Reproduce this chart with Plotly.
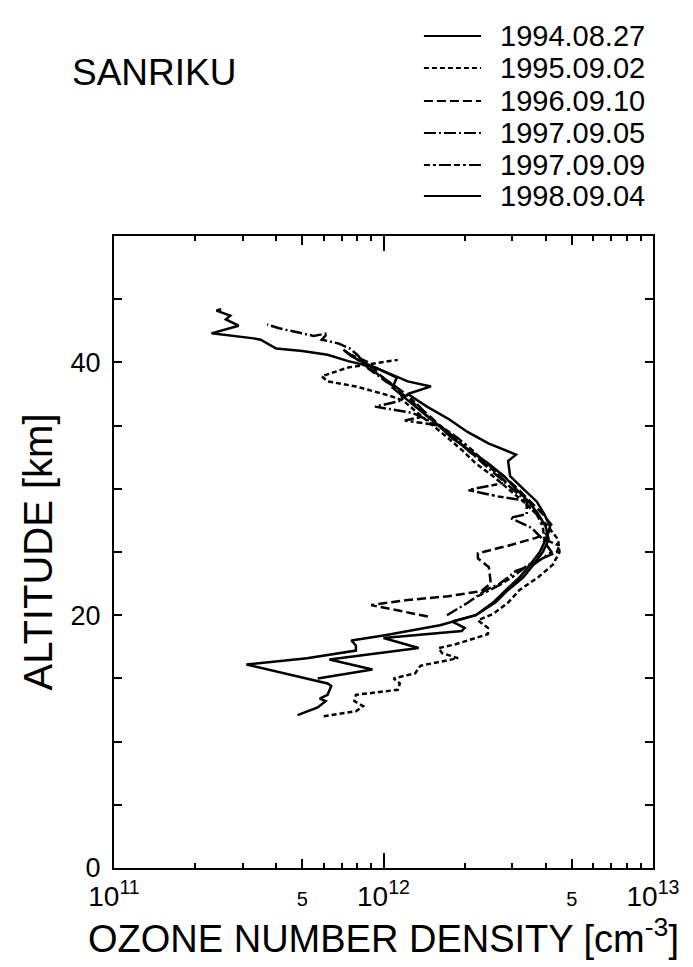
import plotly.graph_objects as go

# ---------------- data (density in units of 1e12 cm^-3, altitude in km) ----------------
labels = ["1994.08.27", "1995.09.02", "1996.09.10", "1997.09.05", "1997.09.09", "1998.09.04"]

alt_1994 = [12.1, 12.7, 13.2, 13.4, 13.7, 14.4, 14.6, 15.4, 16.1, 16.6, 17.2, 17.6, 18.0, 18.4, 19.2,
            20.0, 21.0, 22.0, 23.0, 24.0, 25.0, 26.0, 27.0, 28.0, 29.0, 30.0, 31.0, 32.0, 33.0,
            34.0, 35.0, 36.0, 37.0, 38.0, 38.8, 39.6, 40.1, 40.6, 40.9, 41.1, 41.8, 41.9, 42.3,
            42.9, 43.4, 43.7, 44.1, 44.2]
n_1994 = [0.48, 0.57, 0.61, 0.58, 0.62, 0.64, 0.62, 0.43, 0.31, 0.52, 0.79, 0.79, 0.76, 1.00, 1.62,
          2.20, 2.60, 2.90, 3.30, 3.60, 3.90, 4.10, 4.00, 3.75, 3.45, 3.10, 2.80, 2.45, 2.10,
          1.80, 1.60, 1.40, 1.23, 1.08, 1.12, 0.93, 0.74, 0.62, 0.50, 0.40, 0.35, 0.33, 0.23,
          0.29, 0.26, 0.27, 0.24, 0.25]

alt_1995 = [12.0, 12.4, 12.8, 13.2, 13.7, 14.1, 14.6, 15.0, 15.4, 16.0, 16.6, 17.0, 17.4, 17.7,
            18.5, 19.0, 19.6, 20.1, 21.0, 22.0, 23.0, 24.0, 25.0, 26.0, 27.0, 28.0, 29.0, 30.0,
            31.0, 32.0, 33.0, 34.0, 35.0, 36.0, 37.0, 37.4, 38.1, 38.5, 38.9, 39.6, 40.2]
n_1995 = [0.60, 0.79, 0.84, 0.78, 0.79, 1.13, 1.15, 1.09, 1.31, 1.37, 1.89, 1.65, 1.60, 1.85,
          2.44, 2.44, 2.24, 2.55, 2.90, 3.20, 3.75, 4.25, 4.50, 4.44, 4.08, 3.70, 3.30, 2.90,
          2.55, 2.20, 1.97, 1.74, 1.52, 1.34, 1.18, 1.04, 0.79, 0.62, 0.59, 0.74, 1.13]

alt_1996 = [19.9, 20.3, 20.8, 21.2, 21.5, 21.9, 22.5, 23.2, 23.8, 24.5, 24.9, 25.5, 26.1, 26.5,
            27.0, 28.0, 29.0, 30.0, 31.0, 32.0, 33.0, 34.0, 35.0, 36.0, 37.0, 38.0, 39.0, 40.0, 40.6]
n_1996 = [1.46, 1.18, 0.90, 1.23, 1.74, 2.30, 2.50, 2.48, 2.46, 2.24, 2.24, 2.90, 3.65, 4.08,
          4.25, 3.90, 3.50, 3.15, 2.80, 2.40, 2.06, 1.85, 1.62, 1.44, 1.25, 1.11, 0.97, 0.88, 0.76]

alt_1997a = [20.0, 21.0, 22.0, 22.5, 23.0, 23.5, 24.0, 25.0, 26.0, 26.9, 27.7, 28.0, 29.0, 30.0,
             31.0, 32.0, 33.0, 34.0, 35.0, 36.0, 36.5, 37.0, 37.8, 38.5, 39.5, 40.6, 41.1, 41.5,
             41.8, 42.3, 42.1, 42.7, 43.0]
n_1997a = [1.72, 2.06, 2.40, 2.70, 2.90, 3.10, 3.60, 4.20, 3.90, 3.55, 2.95, 3.40, 3.40, 3.00,
           2.66, 2.35, 2.06, 1.83, 1.62, 1.28, 0.93, 1.18, 1.15, 1.02, 0.88, 0.80, 0.75, 0.68,
           0.59, 0.62, 0.55, 0.41, 0.37]

alt_1997b = [21.5, 22.4, 23.0, 24.0, 25.0, 25.5, 26.0, 27.0, 28.0, 29.1, 29.4, 29.9, 30.5, 31.0,
             32.0, 33.0, 34.0, 35.0, 35.4, 35.8, 36.5, 37.5, 38.5, 39.5, 40.5, 41.0]
n_1997b = [2.24, 2.70, 3.00, 3.45, 4.40, 4.50, 3.95, 3.90, 3.70, 3.27, 2.66, 2.06, 2.85, 2.70,
           2.40, 2.15, 1.89, 1.62, 1.20, 1.46, 1.36, 1.21, 1.04, 0.89, 0.76, 0.71]

alt_1998 = [15.0, 15.7, 16.5, 17.4, 18.2, 18.75, 19.0, 19.5, 20.0, 21.0, 22.0, 23.0, 24.0, 25.0,
            26.0, 27.0, 28.0, 29.0, 30.0, 31.0, 32.2, 32.7, 33.6, 34.5, 35.5, 36.5, 37.5, 38.1,
            38.5, 39.0, 39.5, 40.0, 40.5, 41.0]
n_1998 = [0.57, 0.91, 0.63, 1.35, 1.00, 1.95, 2.00, 1.80, 2.20, 2.55, 2.85, 3.20, 3.50, 3.80,
          4.00, 4.15, 3.95, 3.70, 3.30, 2.95, 2.90, 3.10, 2.45, 2.05, 1.75, 1.45, 1.23, 1.50,
          1.23, 1.08, 0.95, 0.84, 0.76, 0.71]

series_alt = [alt_1994, alt_1995, alt_1996, alt_1997a, alt_1997b, alt_1998]
series_n = [n_1994, n_1995, n_1996, n_1997a, n_1997b, n_1998]

x_tickvals = [1e11, 5e11, 1e12, 5e12, 1e13]
x_ticktext = ["10<sup>11</sup>", "<span style='font-size:20px'>5</span>", "10<sup>12</sup>",
              "<span style='font-size:20px'>5</span>", "10<sup>13</sup>"]
y_tickvals = [0, 20, 40]
y_ticktext = ["0", "20", "40"]

# ---------------- styles ----------------
dashes = ["solid", "5px,3px", "9px,4px", "12px,3px,2px,3px", "6px,3px,3px,3px,12px,3px", "solid"]
FONT = "Liberation Sans, Arial, sans-serif"

fig = go.Figure()
for lab, a, n, d in zip(labels, series_alt, series_n, dashes):
    fig.add_trace(go.Scatter(
        x=[v * 1e12 for v in n], y=a, mode="lines", name=lab,
        line=dict(color="black", width=2.5, dash=d), showlegend=False))

# empty trace to instantiate overlay axis for long decade ticks
fig.add_trace(go.Scatter(x=[], y=[], xaxis="x2", showlegend=False))

# custom legend
row_px = [28, 60, 93, 125, 157, 188]
for lab, d, py in zip(labels, dashes, row_px):
    yp = (860 - py) / 632
    fig.add_shape(type="line", xref="paper", yref="paper", x0=0.575, x1=0.681, y0=yp, y1=yp,
                  line=dict(color="black", width=1.8, dash=d))
    fig.add_annotation(xref="paper", yref="paper", x=0.7124, y=yp, text=lab, showarrow=False,
                       xanchor="left", yanchor="middle", font=dict(size=29, color="black", family=FONT))

fig.add_annotation(xref="paper", yref="paper", x=(62 - 106) / 539, y=(860 - 65) / 632, text="SANRIKU",
                   showarrow=False, xanchor="left", yanchor="middle",
                   font=dict(size=37, color="black", family=FONT))

axis_common = dict(showline=True, linecolor="black", linewidth=2, ticks="inside",
                   tickcolor="black", tickwidth=1.5, showgrid=False, zeroline=False,
                   mirror="ticks")

fig.update_layout(
    width=693, height=967,
    margin=dict(l=106, r=48, t=228, b=107),
    paper_bgcolor="white", plot_bgcolor="white",
    font=dict(family=FONT, color="black"),
    xaxis=dict(type="log", range=[11, 13], tickvals=x_tickvals, ticktext=x_ticktext, ticklen=9,
               ticklabelstandoff=2, tickfont=dict(size=28, color="black", family=FONT),
               minor=dict(ticks="inside", ticklen=5, dtick="D1", tickcolor="black", tickwidth=1.5),
               title=dict(text="OZONE NUMBER DENSITY [cm<sup>-3</sup>]",
                          font=dict(size=38, color="black", family=FONT), standoff=8),
               **axis_common),
    xaxis2=dict(type="log", range=[11, 13], overlaying="x", anchor="y", side="bottom",
                tickvals=[1e11, 1e12, 1e13], ticklen=15, ticks="inside", tickcolor="black",
                tickwidth=1.5, showticklabels=False, showgrid=False, zeroline=False,
                showline=False, mirror="ticks"),
    yaxis=dict(range=[0, 50], tickvals=y_tickvals, ticktext=y_ticktext, ticklen=8,
               ticklabelstandoff=6, tickfont=dict(size=27, color="black", family=FONT),
               minor=dict(ticks="inside", ticklen=8, tick0=0, dtick=5, tickcolor="black", tickwidth=1.5),
               title=dict(text="ALTITUDE [km]", font=dict(size=40, color="black", family=FONT),
                          standoff=6),
               **axis_common),
)

fig.write_html("out.html")
